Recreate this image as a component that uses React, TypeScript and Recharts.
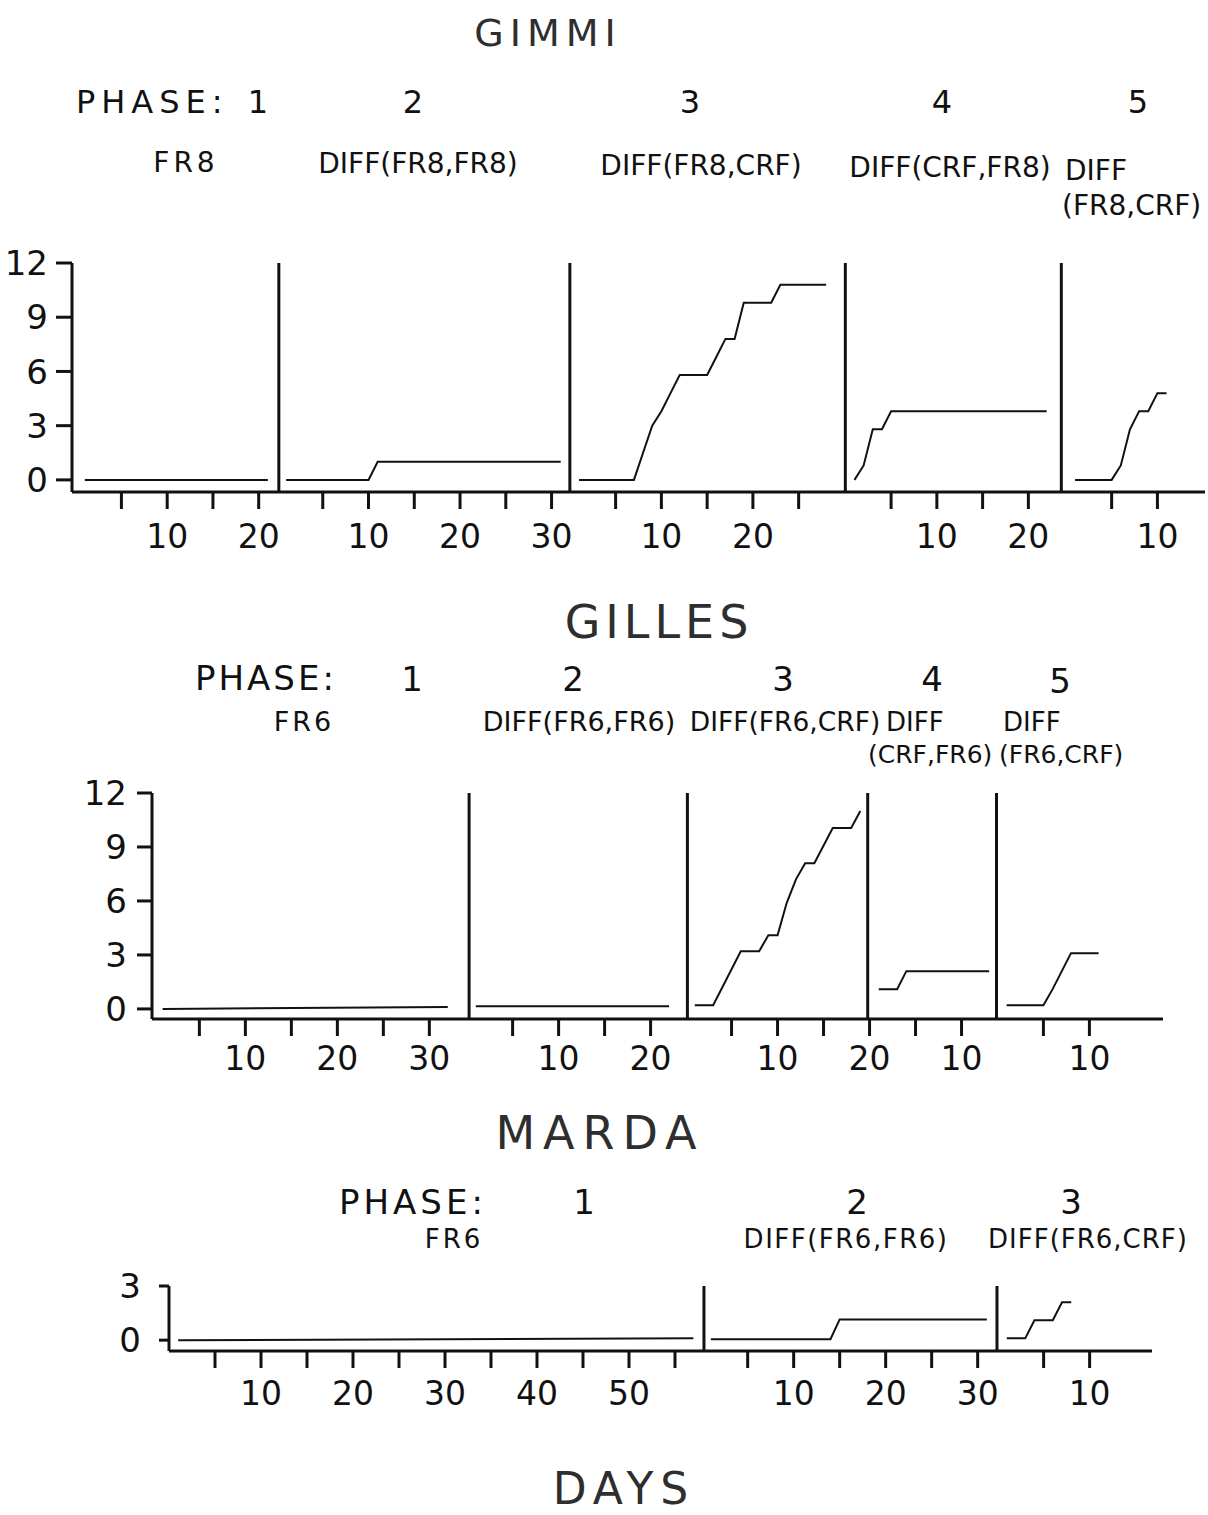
import React from 'react';
import { LineChart, Line, XAxis, YAxis, ReferenceLine } from 'recharts';

type Pt = [number, number];

const FONT = "'DejaVu Sans', 'Liberation Sans', sans-serif";
const INK = '#111';

// ---------------- GIMMI ----------------
const gimmiPhaseOrigins = [0.4, 22.4, 54.4, 84.5, 108.6];
const gimmiDividers = [22.6, 54.4, 84.5, 108.1];
const gimmiDayDomain: [number, number] = [0, 123.8];
const gimmiYDomain: [number, number] = [-0.67, 12];
const gimmiYTicks = [0, 3, 6, 9, 12];
const gimmiDayTicks = [
  [5, 10, 15, 20],
  [5, 10, 15, 20, 25, 30],
  [5, 10, 15, 20, 25],
  [5, 10, 15, 20],
  [5, 10],
];
const gimmiPhase1: Pt[] = [[1, 0], [21, 0]];
const gimmiPhase2: Pt[] = [[1, 0], [10, 0], [11, 1], [31, 1]];
const gimmiPhase3: Pt[] = [
  [1, 0], [7, 0], [8, 1.5], [9, 3], [10, 3.8], [11, 4.8], [12, 5.8], [15, 5.8],
  [16, 6.8], [17, 7.8], [18, 7.8], [19, 9.8], [22, 9.8], [23, 10.8], [28, 10.8],
];
const gimmiPhase4: Pt[] = [[1, 0], [2, 0.8], [3, 2.8], [4, 2.8], [5, 3.8], [22, 3.8]];
const gimmiPhase5: Pt[] = [[1, 0], [5, 0], [6, 0.8], [7, 2.8], [8, 3.8], [9, 3.8], [10, 4.8], [11, 4.8]];

// ---------------- GILLES ----------------
const gillesPhaseOrigins = [0.15, 34.2, 58.0, 78.0, 91.9];
const gillesDividers = [34.47, 58.2, 77.8, 91.8];
const gillesDayDomain: [number, number] = [0, 109.9];
const gillesYDomain: [number, number] = [-0.56, 12];
const gillesYTicks = [0, 3, 6, 9, 12];
const gillesDayTicks = [
  [5, 10, 15, 20, 25, 30],
  [5, 10, 15, 20],
  [5, 10, 15, 20],
  [5, 10],
  [5, 10],
];
const gillesPhase1: Pt[] = [[1, 0], [32, 0.1]];
const gillesPhase2: Pt[] = [[1, 0.15], [22, 0.15]];
const gillesPhase3: Pt[] = [
  [1, 0.2], [3, 0.2], [6, 3.2], [8, 3.2], [9, 4.1], [10, 4.1], [11, 5.9], [12, 7.2],
  [13, 8.1], [14, 8.1], [16, 10.05], [18, 10.05], [19, 11],
];
const gillesPhase4: Pt[] = [[1, 1.1], [3, 1.1], [4, 2.1], [13, 2.1]];
const gillesPhase5: Pt[] = [[1, 0.2], [5, 0.2], [6, 1.1], [8, 3.1], [11, 3.1]];

// ---------------- MARDA ----------------
const mardaPhaseOrigins = [0, 57.9, 90.07];
const mardaDividers = [58.15, 90.0];
const mardaDayDomain: [number, number] = [0, 106.85];
const mardaYDomain: [number, number] = [-0.6, 3];
const mardaYTicks = [0, 3];
const mardaDayTicks = [
  [5, 10, 15, 20, 25, 30, 35, 40, 45, 50, 55],
  [5, 10, 15, 20, 25, 30],
  [5, 10],
];
const mardaPhase1: Pt[] = [[1, 0], [57, 0.1]];
const mardaPhase2: Pt[] = [[1, 0.05], [14, 0.05], [15, 1.15], [31, 1.15]];
const mardaPhase3: Pt[] = [[1, 0.1], [3, 0.1], [4, 1.1], [6, 1.1], [7, 2.1], [8, 2.1]];

interface PanelCfg {
  top: number;
  plotHeight: number;
  yWidth: number;
  right: number;
  yTickSize: number;
  yTickMargin: number;
  xLabelDy: number;
  origins: number[];
  dividers: number[];
  domain: [number, number];
  yDomain: [number, number];
  yTicks: number[];
  dayTicks: number[][];
  phases: Pt[][];
}

const panels: PanelCfg[] = [
  {
    top: 243, plotHeight: 229, yWidth: 72, right: 3, yTickSize: 16, yTickMargin: 8, xLabelDy: 39,
    origins: gimmiPhaseOrigins, dividers: gimmiDividers, domain: gimmiDayDomain,
    yDomain: gimmiYDomain, yTicks: gimmiYTicks, dayTicks: gimmiDayTicks,
    phases: [gimmiPhase1, gimmiPhase2, gimmiPhase3, gimmiPhase4, gimmiPhase5],
  },
  {
    top: 773, plotHeight: 226, yWidth: 152, right: 45, yTickSize: 15, yTickMargin: 10, xLabelDy: 34,
    origins: gillesPhaseOrigins, dividers: gillesDividers, domain: gillesDayDomain,
    yDomain: gillesYDomain, yTicks: gillesYTicks, dayTicks: gillesDayTicks,
    phases: [gillesPhase1, gillesPhase2, gillesPhase3, gillesPhase4, gillesPhase5],
  },
  {
    top: 1266, plotHeight: 65, yWidth: 169, right: 56, yTickSize: 10, yTickMargin: 18, xLabelDy: 37,
    origins: mardaPhaseOrigins, dividers: mardaDividers, domain: mardaDayDomain,
    yDomain: mardaYDomain, yTicks: mardaYTicks, dayTicks: mardaDayTicks,
    phases: [mardaPhase1, mardaPhase2, mardaPhase3],
  },
];

interface Label {
  t: string;
  x: number;
  y: number;
  size: number;
  anchor?: 'start' | 'middle' | 'end';
  ls?: number;
  fill?: string;
}

const TITLE = '#2e2e2e';
const labels: Label[] = [
  // GIMMI
  { t: 'GIMMI', x: 548, y: 46, size: 38, anchor: 'middle', ls: 6, fill: TITLE },
  { t: 'PHASE:', x: 76, y: 113, size: 32, ls: 6 },
  { t: '1', x: 258, y: 113, size: 32, anchor: 'middle' },
  { t: '2', x: 413, y: 113, size: 32, anchor: 'middle' },
  { t: '3', x: 690, y: 113, size: 32, anchor: 'middle' },
  { t: '4', x: 942, y: 113, size: 32, anchor: 'middle' },
  { t: '5', x: 1138, y: 113, size: 32, anchor: 'middle' },
  { t: 'FR8', x: 186, y: 172, size: 28, anchor: 'middle', ls: 4 },
  { t: 'DIFF(FR8,FR8)', x: 418, y: 173, size: 28, anchor: 'middle' },
  { t: 'DIFF(FR8,CRF)', x: 701, y: 175, size: 28, anchor: 'middle' },
  { t: 'DIFF(CRF,FR8)', x: 950, y: 177, size: 28, anchor: 'middle' },
  { t: 'DIFF', x: 1065, y: 180, size: 28 },
  { t: '(FR8,CRF)', x: 1062, y: 215, size: 28 },
  // GILLES
  { t: 'GILLES', x: 659, y: 638, size: 46, anchor: 'middle', ls: 5, fill: TITLE },
  { t: 'PHASE:', x: 195, y: 690, size: 34, ls: 3 },
  { t: '1', x: 412, y: 691, size: 34, anchor: 'middle' },
  { t: '2', x: 573, y: 691, size: 34, anchor: 'middle' },
  { t: '3', x: 783, y: 691, size: 34, anchor: 'middle' },
  { t: '4', x: 932, y: 691, size: 34, anchor: 'middle' },
  { t: '5', x: 1060, y: 693, size: 34, anchor: 'middle' },
  { t: 'FR6', x: 304, y: 731, size: 27, anchor: 'middle', ls: 3 },
  { t: 'DIFF(FR6,FR6)', x: 579, y: 731, size: 27, anchor: 'middle' },
  { t: 'DIFF(FR6,CRF)', x: 785, y: 731, size: 26.5, anchor: 'middle' },
  { t: 'DIFF', x: 886, y: 731, size: 26 },
  { t: '(CRF,FR6)', x: 868, y: 763, size: 25 },
  { t: 'DIFF', x: 1003, y: 731, size: 26 },
  { t: '(FR6,CRF)', x: 999, y: 763, size: 25 },
  // MARDA
  { t: 'MARDA', x: 600, y: 1149, size: 46, anchor: 'middle', ls: 8, fill: TITLE },
  { t: 'PHASE:', x: 339, y: 1214, size: 34, ls: 4 },
  { t: '1', x: 584, y: 1214, size: 34, anchor: 'middle' },
  { t: '2', x: 857, y: 1214, size: 34, anchor: 'middle' },
  { t: '3', x: 1071, y: 1214, size: 34, anchor: 'middle' },
  { t: 'FR6', x: 454, y: 1248, size: 26, anchor: 'middle', ls: 3 },
  { t: 'DIFF(FR6,FR6)', x: 846, y: 1248, size: 26, anchor: 'middle', ls: 1.5 },
  { t: 'DIFF(FR6,CRF)', x: 1088, y: 1248, size: 26, anchor: 'middle', ls: 1 },
  // axis title
  { t: 'DAYS', x: 624, y: 1504, size: 44, anchor: 'middle', ls: 7, fill: TITLE },
];

function Panel({ cfg }: { cfg: PanelCfg }) {
  const tickList: number[] = [];
  const tickText = new Map<string, string>();
  cfg.dayTicks.forEach((days, i) => {
    days.forEach((d) => {
      const g = cfg.origins[i] + d;
      tickList.push(g);
      if (d % 10 === 0) tickText.set(g.toFixed(2), String(d));
    });
  });

  const XTick = (p: any) => {
    const lab = tickText.get(Number(p.payload.value).toFixed(2));
    if (!lab) return <g />;
    return (
      <text x={p.x} y={p.y} dy={cfg.xLabelDy} textAnchor="middle" fontSize={33} fontFamily={FONT} fill={INK}>
        {lab}
      </text>
    );
  };

  const series = cfg.phases.map((pts, i) => pts.map(([d, v]) => ({ x: cfg.origins[i] + d, y: v })));
  const height = 20 + cfg.plotHeight + 70;

  return (
    <div style={{ position: 'absolute', left: 0, top: cfg.top }}>
      <LineChart width={1208} height={height} margin={{ top: 20, right: cfg.right, bottom: 0, left: 0 }}>
        <XAxis
          type="number"
          dataKey="x"
          domain={cfg.domain}
          ticks={tickList}
          interval={0}
          tick={XTick}
          tickSize={17}
          tickMargin={0}
          height={70}
          allowDataOverflow
          axisLine={{ stroke: INK, strokeWidth: 3 }}
          tickLine={{ stroke: INK, strokeWidth: 3 }}
        />
        <YAxis
          type="number"
          domain={cfg.yDomain}
          ticks={cfg.yTicks}
          interval={0}
          width={cfg.yWidth}
          tickSize={cfg.yTickSize}
          tickMargin={cfg.yTickMargin}
          allowDataOverflow
          tick={{ fontSize: 34, fill: INK, fontFamily: FONT }}
          axisLine={{ stroke: INK, strokeWidth: 3 }}
          tickLine={{ stroke: INK, strokeWidth: 3 }}
        />
        {cfg.dividers.map((x) => (
          <ReferenceLine key={x} x={x} stroke={INK} strokeWidth={3} />
        ))}
        {series.map((d, i) => (
          <Line
            key={i}
            data={d}
            dataKey="y"
            type="linear"
            stroke={INK}
            strokeWidth={2}
            dot={false}
            activeDot={false}
            isAnimationActive={false}
          />
        ))}
      </LineChart>
    </div>
  );
}

export default function App() {
  return (
    <div style={{ position: 'absolute', left: 0, top: 0, width: 1208, height: 1515, background: '#fff', overflow: 'hidden' }}>
      {panels.map((cfg, i) => (
        <Panel key={i} cfg={cfg} />
      ))}
      <svg width={1208} height={1515} style={{ position: 'absolute', left: 0, top: 0, pointerEvents: 'none' }}>
        {labels.map((l, i) => (
          <text
            key={i}
            x={l.x}
            y={l.y}
            fontSize={l.size}
            fontFamily={FONT}
            textAnchor={l.anchor || 'start'}
            letterSpacing={l.ls || 0}
            fill={l.fill || INK}
          >
            {l.t}
          </text>
        ))}
      </svg>
    </div>
  );
}
